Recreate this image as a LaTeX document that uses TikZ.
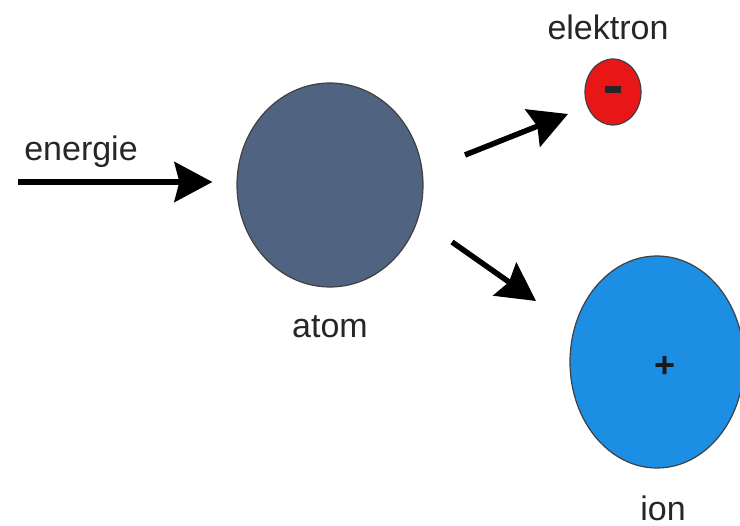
\documentclass[tikz,border=0pt]{standalone}
\usepackage{fontspec}
\setmainfont{Liberation Sans}
\usetikzlibrary{shapes.geometric,arrows.meta}
\definecolor{atomgrey}{RGB}{80,100,130}
\definecolor{elred}{RGB}{232,22,22}
\definecolor{ionblue}{RGB}{28,142,228}
\tikzset{
  particle/.style={ellipse, draw=black!75, line width=1.2pt, inner sep=0pt},
  lbl/.style={font=\fontsize{34}{40}\selectfont, text=black!85, inner sep=0pt},
  bigarrow/.style={line width=5.5pt, -{Stealth[length=38pt,width=40pt,inset=5pt]}}
}
\begin{document}
\begin{tikzpicture}[x=1pt,y=-1pt]
  \useasboundingbox (0,0) rectangle (740,526);
  % particles
  \node[particle, fill=atomgrey, minimum width=186pt, minimum height=204pt] (atom) at (330,185) {};
  \node[particle, fill=elred, minimum width=56pt, minimum height=66pt] (elektron) at (613,92) {};
  \node[particle, fill=ionblue, minimum width=174pt, minimum height=212pt] (ion) at (657,362) {};
  % charges
  \node[inner sep=0pt, text=black!85] (minus) at (613,90) {\rule{16pt}{7pt}};
  \node[font=\fontsize{36}{36}\selectfont\bfseries, inner sep=0pt, text=black!90] (plus) at (665,367) {+};
  % labels
  \node[lbl] (lenergie) at (81,152) {energie};
  \node[lbl] (latom) at (330,327) {atom};
  \node[lbl] (lelektron) at (608,27) {elektron};
  \node[lbl] (lion) at (663,508) {ion};
  % arrows
  \coordinate (in) at (18,182);
  \coordinate (up0) at (465,155);
  \coordinate (up1) at (568,114);
  \coordinate (dn0) at (452,242);
  \coordinate (dn1) at (536,301);
  \draw[bigarrow, shorten >=24pt] (in) -- (in -| atom.west);
  \draw[bigarrow] (up0) -- (up1);
  \draw[bigarrow] (dn0) -- (dn1);
\end{tikzpicture}
\end{document}
